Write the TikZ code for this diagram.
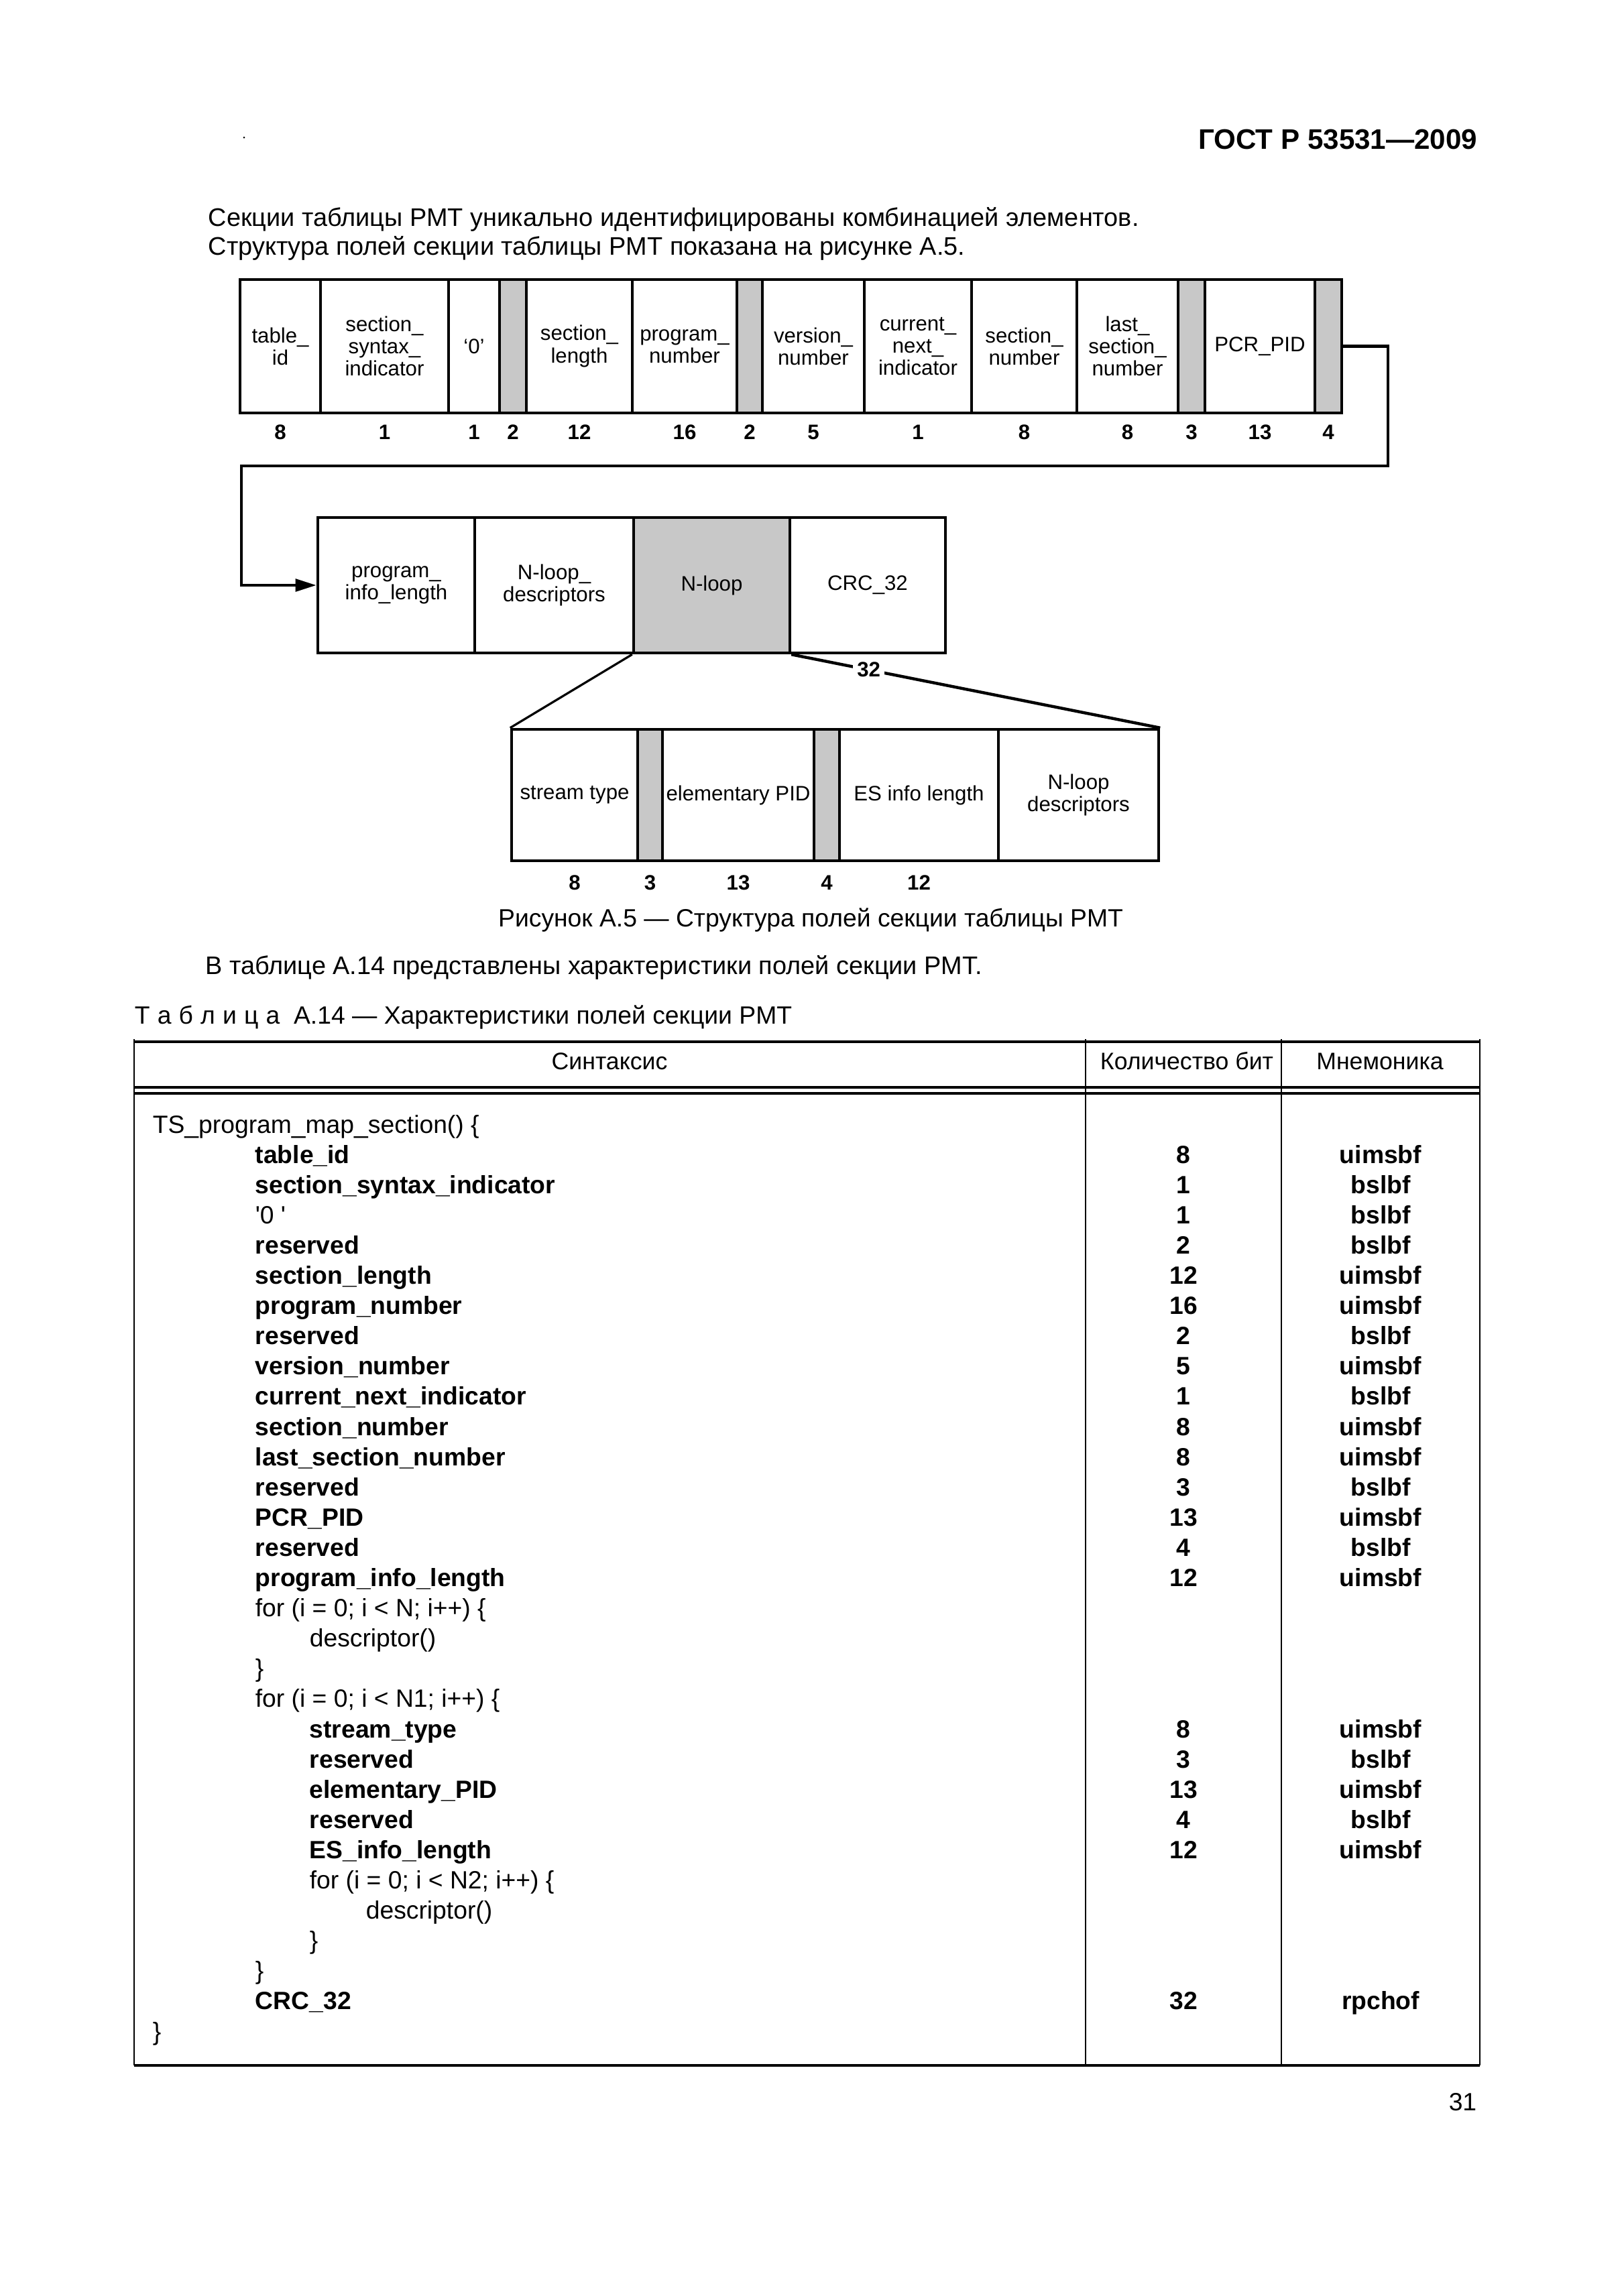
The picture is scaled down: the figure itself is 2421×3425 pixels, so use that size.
\documentclass[tikz,border=0pt]{standalone}
\usepackage{fontspec}
\setmainfont{Liberation Sans}
\usetikzlibrary{arrows.meta}

\newcommand{\pxl}{0.08674mm}
\definecolor{cellgrey}{RGB}{200,200,200}

\tikzset{
  cell/.style={draw, line width=1.1pt, inner sep=0.5pt, align=center,
    font=\fontsize{7.7}{8.2}\selectfont},
  bits/.style={font=\fontsize{7.7}{8.2}\selectfont\bfseries, anchor=base, inner sep=0pt},
  link/.style={line width=1.1pt},
  body/.style={font=\fontsize{9.2}{11}\selectfont, inner sep=0pt},
  bodyb/.style={body, font=\fontsize{9.2}{11}\selectfont\bfseries},
  prose/.style={font=\fontsize{9.35}{11}\selectfont, inner sep=0pt},
  colhead/.style={font=\fontsize{8.8}{10}\selectfont, inner sep=0pt, anchor=base},
  rule/.style={line width=0.5pt},
  heavyrule/.style={line width=1pt}
}

\begin{document}
\begin{tikzpicture}[x=\pxl, y=-\pxl]

\fill[white] (0,0) rectangle (2421,3425);
\useasboundingbox (0,0) rectangle (2421,3425);

% page head
\node[bodyb, font=\fontsize{10.4}{12}\selectfont\bfseries, anchor=base east] (gost) at (2204,222) {ГОСТ Р 53531—2009};
\fill (364,205) circle (1.5);

\node[prose, anchor=base west] (intro1) at (310,337) {Секции таблицы PMT уникально идентифицированы комбинацией элементов.};
\node[prose, anchor=base west] (intro2) at (310,380) {Структура полей секции таблицы PMT показана на рисунке А.5.};

% first row of fields
\foreach \xa/\xb/\txt/\fc [count=\i] in {
  358/478/{table\_\\id}/white,
  478/669/{section\_\\syntax\_\\indicator}/white,
  669/745/{`0'}/white,
  745/785/{}/cellgrey,
  785/943/{section\_\\length}/white,
  943/1099/{program\_\\number}/white,
  1099/1137/{}/cellgrey,
  1137/1289/{version\_\\number}/white,
  1289/1449/{current\_\\next\_\\indicator}/white,
  1449/1606/{section\_\\number}/white,
  1606/1757/{last\_\\section\_\\number}/white,
  1757/1797/{}/cellgrey,
  1797/1961/{PCR\_PID}/white,
  1961/2001/{}/cellgrey}
  {\node[cell, fill=\fc, minimum width={(\xb-\xa)*\pxl}, minimum height={199*\pxl}] (f\i) at ({(\xa+\xb)/2},516.5) {\txt};}
\foreach \nb [count=\i] in {8,1,1,2,12,16,2,5,1,8,8,3,13,4}
  {\node[bits] (fn\i) at (f\i.center |- 0,655) {\nb};}

% second row
\foreach \xa/\xb/\txt/\fc [count=\i] in {
  474/708/{program\_\\info\_length}/white,
  708/945/{N-loop\_\\descriptors}/white,
  945/1178/{N-loop}/cellgrey,
  1178/1410/{CRC\_32}/white}
  {\node[cell, fill=\fc, minimum width={(\xb-\xa)*\pxl}, minimum height={202*\pxl}] (p\i) at ({(\xa+\xb)/2},873) {\txt};}

% third row (N-loop)
\foreach \xa/\xb/\txt/\fc [count=\i] in {
  763/951/{stream type}/white,
  951/988/{}/cellgrey,
  988/1214/{elementary PID}/white,
  1214/1252/{}/cellgrey,
  1252/1489/{ES info length}/white,
  1489/1728/{N-loop\\descriptors}/white}
  {\node[cell, fill=\fc, minimum width={(\xb-\xa)*\pxl}, minimum height={196*\pxl}] (s\i) at ({(\xa+\xb)/2},1186) {\txt};}
\foreach \nb [count=\i] in {8,3,13,4,12}
  {\node[bits] (sn\i) at (s\i.center |- 0,1327) {\nb};}

% connectors
\coordinate (bendR) at (2070,695);
\coordinate (bendL) at (360,695);
\draw[link, -{Triangle[length=2.7mm,width=1.6mm]}] (f14.east) -| (bendR) -- (bendL) |- (p1.west);
\draw[line width=0.8pt] (p3.south west) -- (s1.north west);
\draw[link] (p3.south east) -- node[pos=0.21, fill=white, inner sep=1.5pt, font=\fontsize{7.7}{8.2}\selectfont\bfseries] (crc) {32} (s6.north east);

\node[body, anchor=base] (cap) at (1209,1382) {Рисунок А.5 — Структура полей секции таблицы PMT};

\node[prose, anchor=base west] (tref) at (306,1453) {В таблице А.14 представлены характеристики полей секции PMT.};
\node[body, anchor=base west] (ttl) at (200,1527) {Т\hspace{0.3em}а\hspace{0.3em}б\hspace{0.3em}л\hspace{0.3em}и\hspace{0.3em}ц\hspace{0.3em}а\ \ А.14 — Характеристики полей секции PMT};

% table frame
\draw[heavyrule] (200,1554) -- (2207,1554);
\draw[heavyrule] (200,1622) -- (2207,1622);
\draw[heavyrule] (200,1631) -- (2207,1631);
\draw[heavyrule] (200,3081) -- (2207,3081);
\foreach \xa in {200,1619,1911,2207}
  {\draw[rule] (\xa,1550) -- (\xa,3081);}

\node[colhead] (hsyn) at (909,1595) {Синтаксис};
\node[colhead] (hbits) at (1770,1595) {Количество бит};
\node[colhead] (hmn) at (2058,1595) {Мнемоника};

% table body
\foreach \ind/\txt [count=\n] in {
  227/{TS\_program\_map\_section() \{},
  380/{\bfseries table\_id},
  380/{\bfseries section\_syntax\_indicator},
  380/{\textquotesingle 0 \textquotesingle},
  380/{\bfseries reserved},
  380/{\bfseries section\_length},
  380/{\bfseries program\_number},
  380/{\bfseries reserved},
  380/{\bfseries version\_number},
  380/{\bfseries current\_next\_indicator},
  380/{\bfseries section\_number},
  380/{\bfseries last\_section\_number},
  380/{\bfseries reserved},
  380/{\bfseries PCR\_PID},
  380/{\bfseries reserved},
  380/{\bfseries program\_info\_length},
  380/{for (i = 0; i < N; i++) \{},
  461/{descriptor()},
  380/{\}},
  380/{for (i = 0; i < N1; i++) \{},
  461/{\bfseries stream\_type},
  461/{\bfseries reserved},
  461/{\bfseries elementary\_PID},
  461/{\bfseries reserved},
  461/{\bfseries ES\_info\_length},
  461/{for (i = 0; i < N2; i++) \{},
  545/{descriptor()},
  461/{\}},
  380/{\}},
  380/{\bfseries CRC\_32},
  227/{\}}}
  {\node[body, anchor=base west] (row\n) at (\ind,{1690+45.1*(\n-1)}) {\txt};}

\foreach \k/\nb/\mn in {2/8/uimsbf, 3/1/bslbf, 4/1/bslbf, 5/2/bslbf, 6/12/uimsbf,
  7/16/uimsbf, 8/2/bslbf, 9/5/uimsbf, 10/1/bslbf, 11/8/uimsbf, 12/8/uimsbf,
  13/3/bslbf, 14/13/uimsbf, 15/4/bslbf, 16/12/uimsbf, 21/8/uimsbf, 22/3/bslbf,
  23/13/uimsbf, 24/4/bslbf, 25/12/uimsbf, 30/32/rpchof}
  {\node[bodyb, anchor=base] (nb\k) at (1765,{1690+45.1*(\k-1)}) {\nb};
   \node[bodyb, anchor=base] (mn\k) at (2059,{1690+45.1*(\k-1)}) {\mn};}

\node[body, anchor=base east] (pg) at (2203,3148) {31};

\end{tikzpicture}
\end{document}
